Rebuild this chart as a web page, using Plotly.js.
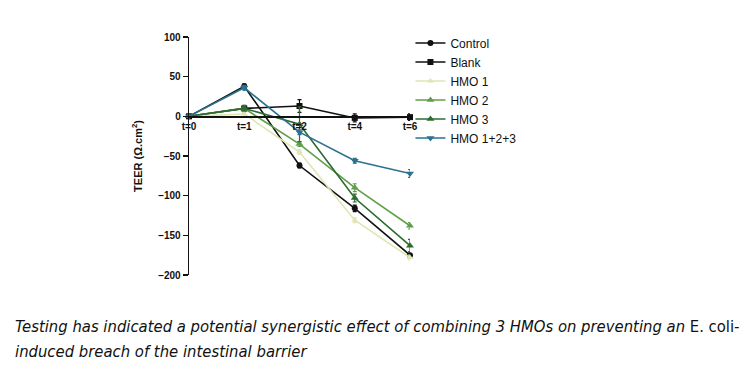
<!DOCTYPE html>
<html><head><meta charset="utf-8">
<script src="https://cdn.plot.ly/plotly-3.0.1.min.js"></script>
<style>html,body{margin:0;padding:0;background:#fff;}#chart{width:750px;height:383px;}</style>
</head><body><div id="chart"></div>
<script>
var timepoints = ["t=0", "t=1", "t=2", "t=4", "t=6"];
var seriesNames = ["Control", "Blank", "HMO 1", "HMO 2", "HMO 3", "HMO 1+2+3"];
var controlVals = [0, 38, -62, -116, -175];
var controlErr  = [0, 3, 3, 4, 4];
var blankVals   = [0, 10, 13, -2, -1];
var blankErr    = [0, 4, 8, 5, 4];
var hmo1Vals    = [0, 3, -45, -131, -178];
var hmo1Err     = [0, 4, 3, 3, 3];
var hmo2Vals    = [0, 10, -35, -90, -138];
var hmo2Err     = [0, 3, 3, 5, 4];
var hmo3Vals    = [0, 10, -10, -103, -163];
var hmo3Err     = [0, 3, 22, 5, 8];
var hmo123Vals  = [0, 36, -20, -56, -72];
var hmo123Err   = [0, 3, 3, 3, 5];
var captionLines = [
  "<i>Testing has indicated a potential synergistic effect of combining 3 HMOs on preventing an </i>E. coli<i>-</i>",
  "<i>induced breach of the intestinal barrier</i>"
];

var values = [controlVals, blankVals, hmo1Vals, hmo2Vals, hmo3Vals, hmo123Vals];
var errs = [controlErr, blankErr, hmo1Err, hmo2Err, hmo3Err, hmo123Err];
var colors = ["#111111", "#111111", "#dfe6b4", "#5f9e48", "#2d6b30", "#2b7190"];
var symbols = ["circle", "square", "triangle-up", "triangle-up", "triangle-up", "triangle-down"];
var sizes = [6, 6, 6, 7, 7, 7];

var traces = values.map(function(v, i){
  return {
    x: timepoints.map(function(_, k){return k;}),
    y: v,
    name: seriesNames[i],
    type: "scatter",
    mode: "lines+markers",
    line: {color: colors[i], width: 1.6},
    marker: {color: colors[i], symbol: symbols[i], size: sizes[i]},
    error_y: {type: "data", array: errs[i], visible: true, color: colors[i], thickness: 1.2, width: 2},
    cliponaxis: false
  };
});

var yMin = -200, yMax = 100;
var plotW = 221, plotH = 238, mL = 189, mT = 37;
var capFont = {family: "Liberation Sans Narrow, DejaVu Sans Condensed, sans-serif", size: 16.5, color: "#111"};
var layout = {
  width: 750, height: 383,
  margin: {l: mL, r: 750 - mL - plotW, t: mT, b: 383 - mT - plotH},
  paper_bgcolor: "#fff", plot_bgcolor: "#fff",
  font: {family: "Liberation Sans, Arial, sans-serif", color: "#111"},
  showlegend: true,
  legend: {x: 1.002, y: 1.036, xanchor: "left", yanchor: "top", font: {size: 12, color: "#111"}, tracegroupgap: 0, itemwidth: 30, bgcolor: "rgba(0,0,0,0)"},
  xaxis: {
    range: [0, 4], tickmode: "array", tickvals: [0,1,2,3,4], ticktext: timepoints,
    anchor: "free", position: (0 - yMin) / (yMax - yMin),
    showline: true, linecolor: "#111", linewidth: 1.3, showgrid: false, zeroline: false,
    ticks: "", tickfont: {size: 10, color: "#111", weight: "bold"}
  },
  yaxis: {
    range: [yMin, yMax], tickvals: [100, 50, 0, -50, -100, -150, -200],
    showline: true, linecolor: "#111", linewidth: 1.3, showgrid: false, zeroline: false,
    ticks: "outside", ticklen: 5, tickwidth: 1.2, tickcolor: "#111",
    tickfont: {size: 10, color: "#111", weight: "bold"},
    title: {text: "TEER (Ω.cm<sup>2</sup>)", font: {size: 11, color: "#111", weight: "bold"}, standoff: 13}
  },
  annotations: [
    {xref: "paper", yref: "paper", x: (13 - mL)/plotW, y: (mT + plotH - 326)/plotH, xanchor: "left", yanchor: "middle", align: "left", showarrow: false, text: captionLines[0], font: capFont},
    {xref: "paper", yref: "paper", x: (13 - mL)/plotW, y: (mT + plotH - 351)/plotH, xanchor: "left", yanchor: "middle", align: "left", showarrow: false, text: captionLines[1], font: capFont}
  ]
};
Plotly.newPlot("chart", traces, layout, {displayModeBar: false, staticPlot: true});
</script></body></html>
